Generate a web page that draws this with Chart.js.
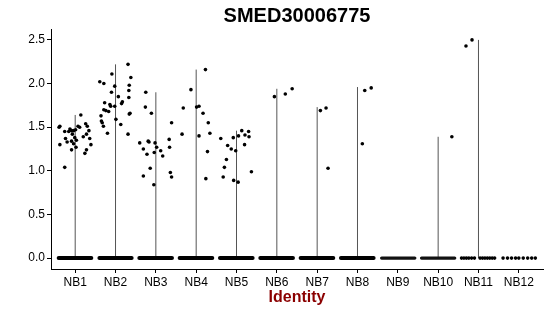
<!DOCTYPE html>
<html><head><meta charset="utf-8">
<script src="https://cdn.jsdelivr.net/npm/chart.js@4/dist/chart.umd.min.js"></script>
<style>html,body{margin:0;padding:0;background:#fff;}</style>
</head><body>
<canvas id="c" width="550" height="316" style="width:550px;height:316px;display:block"></canvas>
<script>
const chartTitle = "SMED30006775";
const xAxisTitle = "Identity";
const categories = ["NB1","NB2","NB3","NB4","NB5","NB6","NB7","NB8","NB9","NB10","NB11","NB12"];
const yTicks = [0, 0.5, 1.0, 1.5, 2.0, 2.5];
// violin extent (max expression) per identity
const violinMax = [1.64, 2.22, 1.90, 2.16, 1.46, 1.94, 1.73, 1.96, 0, 1.39, 2.50, 0];
// dense zero-expression jitter band extent (offset from category centre)
const zeroBandLo = [-0.41,-0.40,-0.41,-0.41,-0.41,-0.41,-0.41,-0.41,-0.40,-0.41, null, null];
const zeroBandHi = [ 0.40, 0.40, 0.40, 0.40, 0.40, 0.40, 0.40, 0.40, 0.42, 0.41, null, null];
// sparse zero-expression cells: jitter offsets
const nb11Zeros = [-0.42,-0.36,-0.30,-0.24,-0.17,-0.10,0.04,0.10,0.16,0.22,0.28,0.34,0.40];
const nb12Zeros = [-0.39,-0.28,-0.18,-0.08,0.00,0.11,0.22,0.32,0.41];
// expressing cells: [jitter offset, expression]
const nb1Points = [[-0.38,1.51],[-0.40,1.50],[-0.26,1.45],[-0.13,1.48],[-0.09,1.46],[-0.16,1.45],[-0.04,1.46],[0.01,1.47],[0.07,1.51],[0.14,1.64],[0.11,1.50],[0.26,1.54],[0.30,1.51],[0.34,1.46],[0.20,1.39],[0.28,1.42],[0.36,1.37],[0.39,1.30],[0.28,1.24],[0.24,1.20],[-0.07,1.42],[-0.01,1.38],[-0.24,1.37],[-0.20,1.33],[-0.09,1.34],[0.03,1.35],[-0.04,1.31],[0.02,1.27],[-0.09,1.24],[-0.38,1.30],[-0.26,1.04]];
const nb2Points = [[-0.39,2.02],[-0.29,2.00],[-0.09,2.11],[0.31,2.22],[0.38,2.07],[-0.02,1.97],[0.34,1.98],[0.33,1.92],[-0.10,1.90],[0.07,1.85],[0.33,1.84],[0.17,1.79],[0.15,1.77],[-0.27,1.78],[-0.14,1.76],[-0.12,1.74],[-0.02,1.74],[-0.29,1.70],[-0.24,1.69],[-0.17,1.68],[-0.36,1.63],[-0.35,1.57],[-0.33,1.55],[-0.30,1.51],[-0.20,1.43],[0.01,1.59],[0.13,1.53],[0.36,1.66],[0.34,1.65],[0.31,1.42]];
const nb3Points = [[-0.25,1.90],[-0.26,1.73],[-0.11,1.66],[-0.40,1.32],[-0.31,1.25],[-0.19,1.34],[-0.17,1.33],[-0.02,1.32],[0.02,1.27],[-0.22,1.19],[-0.04,1.21],[0.12,1.23],[0.17,1.17],[0.33,1.36],[0.34,1.27],[0.39,1.55],[-0.14,1.03],[-0.31,0.94],[-0.05,0.84],[0.36,0.98],[0.39,0.93]];
const nb4Points = [[-0.35,1.42],[-0.32,1.72],[-0.13,1.93],[0.01,1.73],[0.07,1.74],[0.17,1.66],[0.23,2.16],[0.30,1.55],[0.34,1.43],[0.07,1.40],[0.28,1.22],[0.24,0.91]];
const nb5Points = [[-0.39,1.37],[-0.08,1.38],[0.05,1.40],[0.13,1.46],[0.30,1.45],[0.21,1.41],[0.31,1.39],[-0.22,1.29],[-0.13,1.25],[-0.02,1.23],[0.20,1.30],[-0.25,1.13],[-0.30,1.04],[-0.33,0.93],[-0.07,0.89],[0.04,0.87],[0.37,0.99]];
const nb6Points = [[-0.06,1.85],[0.21,1.88],[0.38,1.94]];
const nb7Points = [[0.08,1.69],[0.22,1.72],[0.27,1.03]];
const nb8Points = [[0.18,1.92],[0.34,1.95],[0.12,1.31]];
const nb9Points = [];
const nb10Points = [[0.34,1.39]];
const nb11Points = [[-0.31,2.43],[-0.16,2.50]];
const nb12Points = [];

const groupPoints = [nb1Points,nb2Points,nb3Points,nb4Points,nb5Points,nb6Points,nb7Points,nb8Points,nb9Points,nb10Points,nb11Points,nb12Points];
const sparseZeros = {10: nb11Zeros, 11: nb12Zeros};

const pointData = [];
groupPoints.forEach((arr, i) => arr.forEach(([o, v]) => pointData.push({x: i + o, y: v})));
Object.keys(sparseZeros).forEach(k => sparseZeros[k].forEach(o => pointData.push({x: +k + o, y: 0})));

const denseBand = [], lightBand = [];
categories.forEach((c, i) => {
  if (zeroBandLo[i] === null) return;
  const target = i < 8 ? denseBand : lightBand;
  target.push({x: i + zeroBandLo[i], y: 0}, {x: i + zeroBandHi[i], y: 0}, {x: i, y: null});
});
const violinData = [];
categories.forEach((c, i) => {
  if (violinMax[i] <= 0) return;
  violinData.push({x: i, y: 0}, {x: i, y: violinMax[i]}, {x: i, y: null});
});

const FONT = '"Liberation Sans", Arial, sans-serif';
const textPlugin = {
  id: 'texts',
  afterDraw(chart) {
    const {ctx, chartArea} = chart;
    const cx = (chartArea.left + chartArea.right) / 2;
    ctx.save();
    ctx.textAlign = 'center';
    ctx.textBaseline = 'middle';
    ctx.fillStyle = '#000';
    ctx.font = 'bold 20px ' + FONT;
    ctx.fillText(chartTitle, cx, 16);
    ctx.fillStyle = '#8B0000';
    ctx.font = 'bold 16px ' + FONT;
    ctx.fillText(xAxisTitle, cx, 298);
    ctx.restore();
  }
};

new Chart(document.getElementById('c'), {
  type: 'scatter',
  data: {
    datasets: [
      {data: pointData, pointRadius: 1.8, pointHoverRadius: 1.8, backgroundColor: '#000', borderWidth: 0, order: 0},
      {data: denseBand, showLine: true, spanGaps: false, borderColor: '#000', borderWidth: 4, borderCapStyle: 'round', pointRadius: 0, order: 1},
      {data: lightBand, showLine: true, spanGaps: false, borderColor: '#111', borderWidth: 3.4, borderCapStyle: 'round', pointRadius: 0, order: 1},
      {data: violinData, showLine: true, spanGaps: false, borderColor: '#555', borderWidth: 1, pointRadius: 0, order: 2}
    ]
  },
  options: {
    responsive: false,
    animation: false,
    devicePixelRatio: 1,
    layout: {padding: {top: 29, right: 7, left: 0, bottom: 0}},
    plugins: {legend: {display: false}, tooltip: {enabled: false}, title: {display: false}},
    scales: {
      x: {
        type: 'linear', min: -0.6, max: categories.length - 0.4,
        afterBuildTicks: s => { s.ticks = categories.map((c, i) => ({value: i})); },
        afterFit: s => { s.height = 47; },
        ticks: {callback: v => categories[v], autoSkip: false, maxRotation: 0, color: '#000', padding: 2, font: {family: FONT, size: 12}},
        grid: {drawOnChartArea: false, drawTicks: true, tickLength: 4, color: '#000'},
        border: {display: true, color: '#000', width: 1}
      },
      y: {
        type: 'linear', min: -0.125, max: 2.625,
        afterBuildTicks: s => { s.ticks = yTicks.map(v => ({value: v})); },
        afterFit: s => { s.width = 51; },
        ticks: {callback: v => v.toFixed(1), color: '#000', padding: 2, font: {family: FONT, size: 12}},
        grid: {drawOnChartArea: false, drawTicks: true, tickLength: 4, color: '#000'},
        border: {display: true, color: '#000', width: 1}
      }
    }
  },
  plugins: [textPlugin]
});
</script>
</body></html>
